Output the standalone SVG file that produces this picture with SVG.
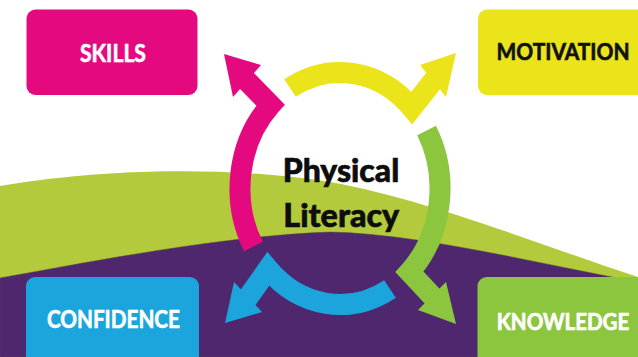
<svg xmlns="http://www.w3.org/2000/svg" width="638" height="357" viewBox="0 0 638 357">
  <style>
    .box { stroke: none; }
    .label { font-family: "Lato", "Liberation Sans", sans-serif; font-weight: 700; text-anchor: middle; stroke-width: 0.6; }
    .light { fill: #ffffff; stroke: #ffffff; }
    .dark { fill: #111111; stroke: #111111; }
    .shaft { fill: none; stroke-width: 21; stroke-linecap: butt; stroke-linejoin: miter; stroke-miterlimit: 6; }
    .title { font-family: "Lato", "Liberation Sans", sans-serif; font-weight: 900; font-size: 32px; text-anchor: middle; fill: #0d0d0d; stroke: #0d0d0d; stroke-width: 0.6; }
  </style>

  <!-- backdrop: white sky, green hill, purple ground -->
  <rect x="0" y="0" width="638" height="357" fill="#ffffff"/>
  <path d="M0,186 C80,172 200,164 318,180 C420,196 540,245 638,277 L638,357 L0,357 Z" fill="#b3ca3c"/>
  <path d="M0,278 C90,262 220,236 330,232 C420,234 530,262 638,282 L638,357 L0,357 Z" fill="#4f276f" stroke="#5a4a3a" stroke-width="1" stroke-opacity="0.5"/>

  <!-- cycle arrows around the centre (ellipse centre 340,188.5, rx 100, ry 116) -->
  <g id="connectors">
    <g id="arrow-skills">
      <path class="shaft" stroke="#e5097f" d="M253.4,246.5 A100,116 0 0 1 270.53,105.06 L244.2,78.1"/>
      <polygon fill="#e5097f" points="224,54 261,65 233,97"/>
    </g>
    <g id="arrow-motivation">
      <path class="shaft" stroke="#ece41b" d="M290,88.04 A100,116 0 0 1 411.93,107.92 L435.5,77.9"/>
      <polygon fill="#ece41b" points="456,53 446,97 420,65"/>
    </g>
    <g id="arrow-knowledge">
      <path class="shaft" stroke="#8cc63f" d="M426.6,130.5 A100,116 0 0 1 409.47,271.94 L434.7,298.9"/>
      <polygon fill="#8cc63f" points="456,324 418,310 446,282"/>
    </g>
    <g id="arrow-confidence">
      <path class="shaft" stroke="#1ba5dc" d="M390,288.96 A100,116 0 0 1 268.07,269.09 L245.7,300.8"/>
      <polygon fill="#1ba5dc" points="225,323 234,282 262,312"/>
    </g>
  </g>

  <g id="node-skills">
    <rect class="box" x="26.5" y="9.5" width="171" height="85.5" rx="9" fill="#e5097f"/>
    <text class="label light" x="113" y="62" style="font-size:24px" textLength="66" lengthAdjust="spacingAndGlyphs" transform="translate(0,62) scale(1,1.06) translate(0,-62)">SKILLS</text>
  </g>

  <!-- right-hand boxes run to the edge of the canvas; labels stretched a little vertically -->
  <g id="node-motivation">
    <path class="box" d="M478,18.5 A9,9 0 0 1 487,9.5 H638 V95 H487 A9,9 0 0 1 478,86 Z" fill="#ece41b"/>
    <text class="label dark" x="563" y="60" style="font-size:21px" textLength="133" lengthAdjust="spacingAndGlyphs" transform="translate(0,60) scale(1,1.12) translate(0,-60)">MOTIVATION</text>
  </g>

  <g id="node-confidence">
    <path class="box" d="M26,286 A9,9 0 0 1 35,277 H190 A9,9 0 0 1 199,286 V357 H26 Z" fill="#1ba5dc"/>
    <text class="label light" x="113.4" y="328.3" style="font-size:23px" textLength="133" lengthAdjust="spacingAndGlyphs" transform="translate(0,328.3) scale(1,1.04) translate(0,-328.3)">CONFIDENCE</text>
  </g>

  <g id="node-knowledge">
    <path class="box" d="M477.5,286 A9,9 0 0 1 486.5,277 H638 V357 H477.5 Z" fill="#8cc63f"/>
    <text class="label light" x="563" y="330" style="font-size:20.5px" textLength="132.5" lengthAdjust="spacingAndGlyphs" transform="translate(0,330) scale(1,1.14) translate(0,-330)">KNOWLEDGE</text>
  </g>

  <g id="node-physical-literacy">
    <text class="title" x="341" y="182.3" textLength="116.5" lengthAdjust="spacingAndGlyphs">Physical</text>
    <text class="title" x="341.3" y="226.7" textLength="116" lengthAdjust="spacingAndGlyphs">Literacy</text>
  </g>
</svg>
